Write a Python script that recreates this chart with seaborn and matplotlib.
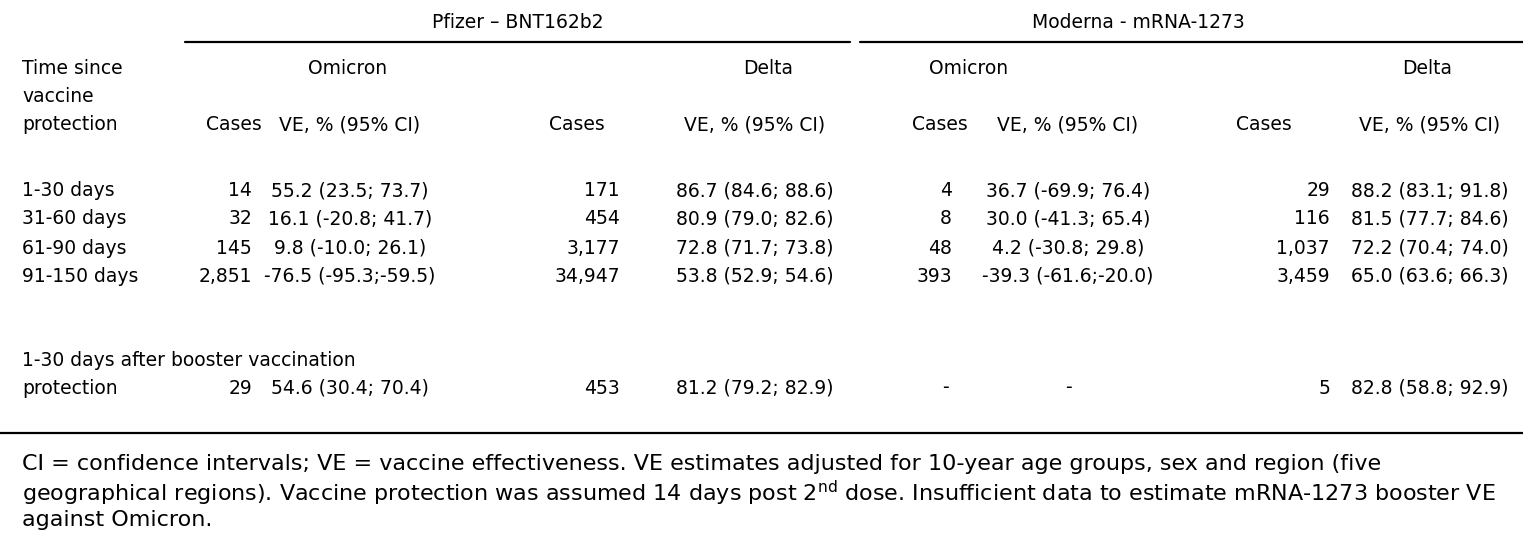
import matplotlib
matplotlib.use("Agg")
import matplotlib.pyplot as plt
import seaborn as sns

# table content
vaccines = ["Pfizer – BNT162b2", "Moderna - mRNA-1273"]
variants = ["Omicron", "Delta", "Omicron", "Delta"]
row_labels = ["1-30 days", "31-60 days", "61-90 days", "91-150 days"]

pfizer_omicron_cases = ["14", "32", "145", "2,851"]
pfizer_omicron_ve = ["55.2 (23.5; 73.7)", "16.1 (-20.8; 41.7)", "9.8 (-10.0; 26.1)", "-76.5 (-95.3;-59.5)"]
pfizer_delta_cases = ["171", "454", "3,177", "34,947"]
pfizer_delta_ve = ["86.7 (84.6; 88.6)", "80.9 (79.0; 82.6)", "72.8 (71.7; 73.8)", "53.8 (52.9; 54.6)"]
moderna_omicron_cases = ["4", "8", "48", "393"]
moderna_omicron_ve = ["36.7 (-69.9; 76.4)", "30.0 (-41.3; 65.4)", "4.2 (-30.8; 29.8)", "-39.3 (-61.6;-20.0)"]
moderna_delta_cases = ["29", "116", "1,037", "3,459"]
moderna_delta_ve = ["88.2 (83.1; 91.8)", "81.5 (77.7; 84.6)", "72.2 (70.4; 74.0)", "65.0 (63.6; 66.3)"]

booster_label = ["1-30 days after booster vaccination", "protection"]
booster_values = ["29", "54.6 (30.4; 70.4)", "453", "81.2 (79.2; 82.9)", "-", "-", "5", "82.8 (58.8; 92.9)"]

footnote = [
    "CI = confidence intervals; VE = vaccine effectiveness. VE estimates adjusted for 10-year age groups, sex and region (five",
    "geographical regions). Vaccine protection was assumed 14 days post 2$^{\\mathrm{nd}}$ dose. Insufficient data to estimate mRNA-1273 booster VE",
    "against Omicron.",
]

sns.set_theme(style="white")
plt.rcParams["font.family"] = ["DejaVu Sans"]
plt.rcParams["mathtext.fontset"] = "dejavusans"

fig = plt.figure(figsize=(15.23, 5.5), dpi=100)
ax = fig.add_axes([0, 0, 1, 1])
ax.set_xlim(0, 1523)
ax.set_ylim(550, 0)
ax.axis("off")

kw = dict(fontsize=13.5, color="black", va="center_baseline")
kw_note = dict(fontsize=16, color="black", va="center_baseline")

# column layout: cases right edge, VE centre
case_x = [252, 620, 952, 1330]
ve_x = [350, 755, 1068, 1430]

ax.text(518, 20, vaccines[0], ha="center", **kw)
ax.text(1138, 20, vaccines[1], ha="center", **kw)
ax.plot([185, 850], [42, 42], color="black", lw=1.6)
ax.plot([860, 1523], [42, 42], color="black", lw=1.6)

for i, v in enumerate(variants):
    ax.text([348, 768, 969, 1427][i], 67, v, ha="center", **kw)

for y, t in zip([67, 95, 123], ["Time since", "vaccine", "protection"]):
    ax.text(22, y, t, ha="left", **kw)

for i in range(4):
    ax.text([234, 577, 940, 1264][i], 123, "Cases", ha="center", **kw)
    ax.text(ve_x[i], 123, "VE, % (95% CI)", ha="center", **kw)

cases = [pfizer_omicron_cases, pfizer_delta_cases, moderna_omicron_cases, moderna_delta_cases]
ves = [pfizer_omicron_ve, pfizer_delta_ve, moderna_omicron_ve, moderna_delta_ve]
row_y = [189, 217, 246, 274]
for r, y in enumerate(row_y):
    ax.text(22, y, row_labels[r], ha="left", **kw)
    for c in range(4):
        ax.text(case_x[c], y, cases[c][r], ha="right", **kw)
        ax.text(ve_x[c], y, ves[c][r], ha="center", **kw)

ax.text(22, 358, booster_label[0], ha="left", **kw)
ax.text(22, 386, booster_label[1], ha="left", **kw)
for c in range(4):
    cv = booster_values[2 * c]
    if cv == "-":
        ax.text(case_x[c] - 7, 386, cv, ha="center", **kw)
    else:
        ax.text(case_x[c], 386, cv, ha="right", **kw)
    ax.text(ve_x[c], 386, booster_values[2 * c + 1], ha="center", **kw)

ax.plot([0, 1523], [433, 433], color="black", lw=1.6)
for y, line in zip([462, 490, 518], footnote):
    ax.text(22, y, line, ha="left", **kw_note)

fig.savefig("out.png", dpi=100, facecolor="white")
